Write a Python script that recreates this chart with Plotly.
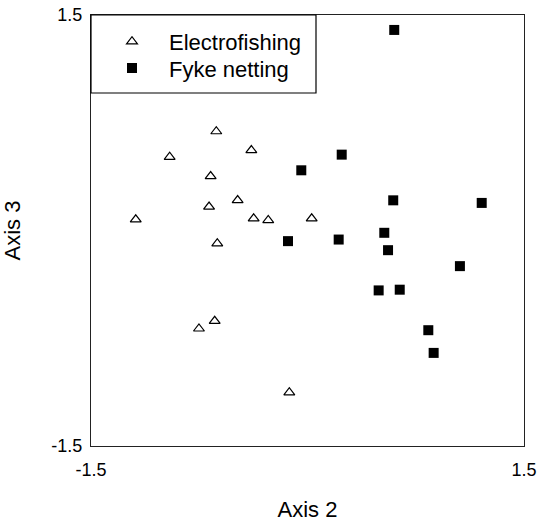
import plotly.graph_objects as go

# Electrofishing (open triangles)
ef_x = [-0.632, -0.955, -0.389, -0.671, -0.484, -0.682, -1.190, -0.373, -0.272, 0.029, -0.625, -0.752, -0.643, -0.126]
ef_y = [0.690, 0.512, 0.558, 0.377, 0.210, 0.165, 0.076, 0.083, 0.072, 0.083, -0.090, -0.683, -0.630, -1.127]

# Fyke netting (filled squares)
fk_x = [0.601, -0.043, 0.237, 0.594, 1.207, -0.135, 0.216, 0.532, 0.558, 1.056, 0.493, 0.639, 0.837, 0.874]
fk_y = [1.396, 0.419, 0.528, 0.210, 0.192, -0.074, -0.063, -0.016, -0.137, -0.248, -0.417, -0.412, -0.694, -0.852]

tick_vals = [-1.5, 1.5]
tick_text = ["-1.5", "1.5"]
series_names = ["Electrofishing", "Fyke netting"]

FONT = "Liberation Sans, Arial, Helvetica, sans-serif"

fig = go.Figure()
fig.add_trace(go.Scatter(
    x=ef_x, y=ef_y, mode="markers", name=series_names[0], legend="legend",
    marker=dict(symbol="triangle-up", size=9.5, color="white",
                line=dict(color="black", width=1.2)),
))
fig.add_trace(go.Scatter(
    x=fk_x, y=fk_y, mode="markers", name=series_names[1], legend="legend2",
    marker=dict(symbol="square", size=10, color="black",
                line=dict(color="black", width=0)),
))

W, H = 540, 522
ml, mr, mt, mb = 91, 16, 15, 76
pw, ph = W - ml - mr, H - mt - mb

# legend frame
fig.add_shape(type="rect", xref="paper", yref="paper",
              x0=0, x1=225 / pw, y0=1 - 78 / ph, y1=1,
              line=dict(color="black", width=1.2), fillcolor="rgba(0,0,0,0)")

leg_common = dict(x=0, xanchor="left", yanchor="middle",
                  bgcolor="rgba(0,0,0,0)", borderwidth=0,
                  font=dict(size=22, family=FONT),
                  itemwidth=64, indentation=4)

fig.update_layout(
    width=W, height=H,
    margin=dict(l=ml, r=mr, t=mt, b=mb, autoexpand=False),
    paper_bgcolor="white", plot_bgcolor="white",
    font=dict(family=FONT, color="black", size=18),
    showlegend=True,
    legend=dict(y=1 - 26.7 / ph, **leg_common),
    legend2=dict(y=1 - 53.3 / ph, **leg_common),
    xaxis=dict(range=[-1.5, 1.5], tickvals=tick_vals, ticktext=tick_text,
               showgrid=False, zeroline=False, ticks="",
               showline=True, linecolor="#222", linewidth=1.3, mirror=True,
               tickfont=dict(size=18), ticklabelstandoff=7,
               title=dict(text="Axis 2", font=dict(size=22), standoff=23)),
    yaxis=dict(range=[-1.5, 1.5], tickvals=tick_vals, ticktext=tick_text,
               showgrid=False, zeroline=False, ticks="",
               showline=True, linecolor="#222", linewidth=1.3, mirror=True,
               tickfont=dict(size=18), ticklabelstandoff=4,
               title=dict(text="Axis 3", font=dict(size=22), standoff=26)),
)

# remove the browser's default 8px page margin so the figure fills the window
fig.write_html("out.html", config={"displayModeBar": False},
               post_script="document.body.style.margin='0';")
